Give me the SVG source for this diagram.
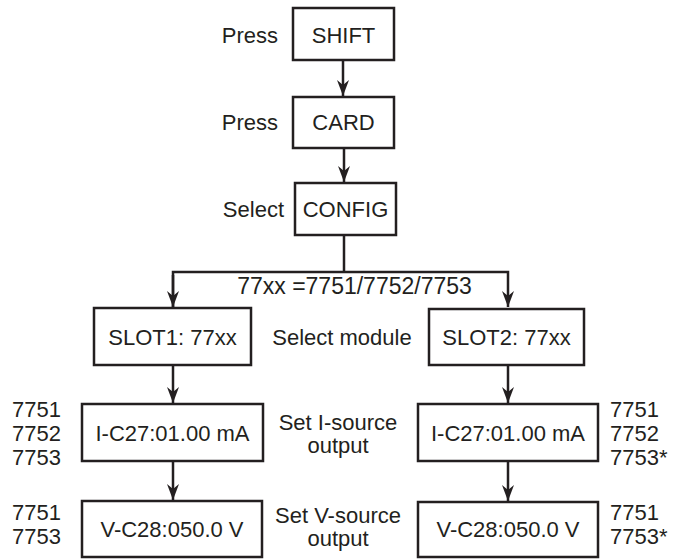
<svg xmlns="http://www.w3.org/2000/svg" width="678" height="559" viewBox="0 0 678 559">
<style>
  .box { fill: #ffffff; stroke: #231f20; stroke-width: 2.5; }
  .t { font-family: "Liberation Sans", Arial, sans-serif; font-size: 22px; fill: #231f20; }
  .c { text-anchor: middle; }
  .e { text-anchor: end; }
  .ln { fill: none; stroke: #231f20; stroke-width: 2.5; }
</style>
<defs>
  <marker id="arr" viewBox="0 0 16 12" refX="16" refY="6" markerWidth="16" markerHeight="12" markerUnits="userSpaceOnUse" orient="auto">
    <path d="M0,0 L16,6 L0,12 L5,6 z" fill="#231f20"/>
  </marker>
</defs>
<rect width="678" height="559" fill="#ffffff"/>
<g id="connectors">
  <line class="ln" x1="343" y1="60" x2="343" y2="96" marker-end="url(#arr)"/>
  <line class="ln" x1="344" y1="148" x2="344" y2="182" marker-end="url(#arr)"/>
  <line class="ln" x1="344" y1="235" x2="344" y2="272"/>
  <polyline class="ln" points="173,307 173,272 508,272 508,307" marker-end="url(#arr)"/>
  <line class="ln" x1="173" y1="275" x2="173" y2="307" marker-end="url(#arr)"/>
  <line class="ln" x1="173" y1="365" x2="173" y2="403" marker-end="url(#arr)"/>
  <line class="ln" x1="173" y1="461" x2="173" y2="500" marker-end="url(#arr)"/>
  <line class="ln" x1="508" y1="365" x2="508" y2="403" marker-end="url(#arr)"/>
  <line class="ln" x1="508" y1="461" x2="508" y2="501" marker-end="url(#arr)"/>
</g>
<g id="shift">
  <rect class="box" x="293" y="8" width="101" height="52"/>
  <text class="t c" x="343.5" y="43">SHIFT</text>
  <text class="t e" x="278" y="43">Press</text>
</g>
<g id="card">
  <rect class="box" x="293" y="97" width="101" height="51"/>
  <text class="t c" x="343.5" y="130">CARD</text>
  <text class="t e" x="278" y="130">Press</text>
</g>
<g id="config">
  <rect class="box" x="295" y="183" width="101" height="52"/>
  <text class="t c" x="345.5" y="217">CONFIG</text>
  <text class="t e" x="284" y="217">Select</text>
</g>
<g id="note-77xx">
  <text class="t c" x="354.5" y="294" style="font-size:23px">77xx =7751/7752/7753</text>
</g>
<g id="slot1">
  <rect class="box" x="94" y="308" width="157" height="57"/>
  <text class="t c" x="172.5" y="345">SLOT1: 77xx</text>
</g>
<g id="select-module">
  <text class="t c" x="342" y="345">Select module</text>
</g>
<g id="slot2">
  <rect class="box" x="429" y="309" width="155" height="56"/>
  <text class="t c" x="506.5" y="345">SLOT2: 77xx</text>
</g>
<g id="ic27-left">
  <rect class="box" x="82" y="404" width="181" height="57"/>
  <text class="t c" x="172.5" y="441">I-C27:01.00 mA</text>
  <text class="t" x="12" y="417">7751</text>
  <text class="t" x="12" y="441">7752</text>
  <text class="t" x="12" y="465">7753</text>
</g>
<g id="set-i-label">
  <text class="t c" x="338" y="430">Set I-source</text>
  <text class="t c" x="338" y="453">output</text>
</g>
<g id="ic27-right">
  <rect class="box" x="418" y="404" width="180" height="57"/>
  <text class="t c" x="508" y="441">I-C27:01.00 mA</text>
  <text class="t" x="610" y="417">7751</text>
  <text class="t" x="610" y="441">7752</text>
  <text class="t" x="610" y="465">7753*</text>
</g>
<g id="vc28-left">
  <rect class="box" x="82" y="501" width="180" height="56"/>
  <text class="t c" x="172" y="537">V-C28:050.0 V</text>
  <text class="t" x="12" y="520">7751</text>
  <text class="t" x="12" y="544">7753</text>
</g>
<g id="set-v-label">
  <text class="t c" x="338" y="523">Set V-source</text>
  <text class="t c" x="338" y="546">output</text>
</g>
<g id="vc28-right">
  <rect class="box" x="418" y="502" width="180" height="55"/>
  <text class="t c" x="508" y="537">V-C28:050.0 V</text>
  <text class="t" x="610" y="520">7751</text>
  <text class="t" x="610" y="544">7753*</text>
</g>
</svg>
